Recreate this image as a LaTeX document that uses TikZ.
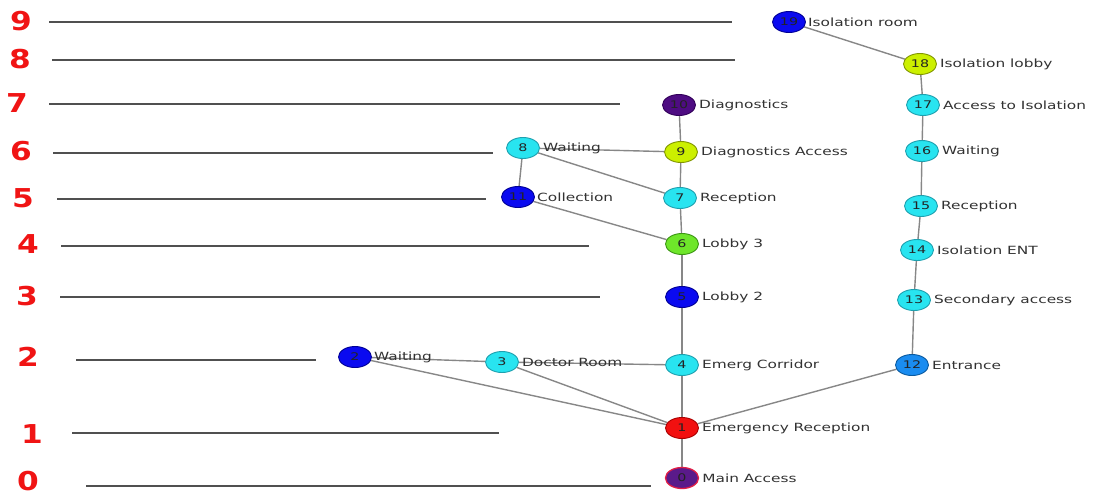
\documentclass[tikz,border=0pt]{standalone}
\usepackage{fontspec}
\usetikzlibrary{shapes.geometric,backgrounds}
\newfontfamily\lblfont[FakeStretch=1.36]{DejaVu Sans}
\newfontfamily\lvlfont[FakeStretch=1.2]{DejaVu Sans Bold}
\definecolor{cy}{RGB}{40,228,240}
\definecolor{cyb}{RGB}{30,160,175}
\definecolor{bl}{RGB}{10,10,240}
\definecolor{blb}{RGB}{0,0,150}
\definecolor{rd}{RGB}{242,16,16}
\definecolor{rdb}{RGB}{170,0,0}
\definecolor{ind}{RGB}{78,12,130}
\definecolor{indb}{RGB}{50,0,90}
\definecolor{pur0}{RGB}{90,26,138}
\definecolor{pur0b}{RGB}{225,30,70}
\definecolor{gr}{RGB}{110,230,42}
\definecolor{grb}{RGB}{60,150,20}
\definecolor{yg}{RGB}{204,240,0}
\definecolor{ygb}{RGB}{130,150,0}
\definecolor{db}{RGB}{26,140,240}
\definecolor{dbb}{RGB}{10,90,160}
\definecolor{edgegray}{RGB}{135,135,135}
\definecolor{rulegray}{RGB}{80,80,80}
\definecolor{lbltxt}{RGB}{50,50,50}
\definecolor{numtxt}{RGB}{35,35,35}
\definecolor{lvlred}{RGB}{240,20,20}
\begin{document}
\begin{tikzpicture}[x=1pt,y=-1pt,
  vtx/.style={ellipse, draw, line width=0.9pt, minimum width=33pt, minimum height=21pt, inner sep=0pt,
    font=\lblfont\fontsize{10.5}{11}\selectfont, text=numtxt},
  cyv/.style={vtx, fill=cy, draw=cyb},
  blv/.style={vtx, fill=bl, draw=blb},
  rdv/.style={vtx, fill=rd, draw=rdb},
  indv/.style={vtx, fill=ind, draw=indb},
  p0v/.style={vtx, fill=pur0, draw=pur0b, line width=1.3pt},
  grv/.style={vtx, fill=gr, draw=grb},
  ygv/.style={vtx, fill=yg, draw=ygb},
  dbv/.style={vtx, fill=db, draw=dbb},
  lbl/.style={anchor=west, inner sep=0pt, font=\lblfont\fontsize{11.3}{12}\selectfont, text=lbltxt},
  lvl/.style={inner sep=0pt, font=\lvlfont\fontsize{26}{26}\selectfont, text=lvlred},
  ruler/.style={draw=rulegray, line width=1.3pt},
  edge/.style={draw=edgegray, line width=1.4pt}
]
\useasboundingbox (0,0) rectangle (1094,496);

% level numbers and rules
\node[lvl] (v9) at (21,21) {9};
\node[lvl] (v8) at (20,59) {8};
\node[lvl] (v7) at (17,103) {7};
\node[lvl] (v6) at (21,151) {6};
\node[lvl] (v5) at (23,198) {5};
\node[lvl] (v4) at (28,244) {4};
\node[lvl] (v3) at (27,296) {3};
\node[lvl] (v2) at (28,357) {2};
\node[lvl] (v1) at (32,434) {1};
\node[lvl] (v0) at (28,481) {0};
\draw[ruler] (49,22) -- (732,22);
\draw[ruler] (52,60) -- (735,60);
\draw[ruler] (49,104) -- (620,104);
\draw[ruler] (53,153) -- (493,153);
\draw[ruler] (57,199) -- (486,199);
\draw[ruler] (61,246) -- (589,246);
\draw[ruler] (60,297) -- (600,297);
\draw[ruler] (76,360) -- (316,360);
\draw[ruler] (72,433) -- (499,433);
\draw[ruler] (86,486) -- (651,486);

% vertices
\node[p0v] (n0) at (682,478) {0};
\node[rdv] (n1) at (682,428) {1};
\node[blv] (n2) at (355,357) {2};
\node[cyv] (n3) at (502,362) {3};
\node[cyv] (n4) at (682,365) {4};
\node[blv] (n5) at (682,297) {5};
\node[grv] (n6) at (682,244) {6};
\node[cyv] (n7) at (680,198) {7};
\node[cyv] (n8) at (523,148) {8};
\node[ygv] (n9) at (681,152) {9};
\node[indv] (n10) at (679,105) {10};
\node[blv] (n11) at (518,197) {11};
\node[dbv] (n12) at (912,365) {12};
\node[cyv] (n13) at (914,300) {13};
\node[cyv] (n14) at (917,250) {14};
\node[cyv] (n15) at (921,206) {15};
\node[cyv] (n16) at (922,151) {16};
\node[cyv] (n17) at (923,105) {17};
\node[ygv] (n18) at (920,64) {18};
\node[blv] (n19) at (789,22) {19};

% labels
\node[lbl] (t0) at ([xshift=3pt]n0.east) {Main Access};
\node[lbl] (t1) at ([xshift=3pt]n1.east) {Emergency Reception};
\node[lbl] (t2) at ([xshift=2pt]n2.east) {Waiting};
\node[lbl] (t3) at ([xshift=3pt]n3.east) {Doctor Room};
\node[lbl] (t4) at ([xshift=3pt]n4.east) {Emerg Corridor};
\node[lbl] (t5) at ([xshift=3pt]n5.east) {Lobby 2};
\node[lbl] (t6) at ([xshift=3pt]n6.east) {Lobby 3};
\node[lbl] (t7) at ([xshift=3pt]n7.east) {Reception};
\node[lbl] (t8) at ([xshift=3pt]n8.east) {Waiting};
\node[lbl] (t9) at ([xshift=3pt]n9.east) {Diagnostics Access};
\node[lbl] (t10) at ([xshift=3pt]n10.east) {Diagnostics};
\node[lbl] (t11) at ([xshift=2pt]n11.east) {Collection};
\node[lbl] (t12) at ([xshift=3pt]n12.east) {Entrance};
\node[lbl] (t13) at ([xshift=3pt]n13.east) {Secondary access};
\node[lbl] (t14) at ([xshift=3pt]n14.east) {Isolation ENT};
\node[lbl] (t15) at ([xshift=3pt]n15.east) {Reception};
\node[lbl] (t16) at ([xshift=3pt]n16.east) {Waiting};
\node[lbl] (t17) at ([xshift=3pt]n17.east) {Access to Isolation};
\node[lbl] (t18) at ([xshift=3pt]n18.east) {Isolation lobby};
\node[lbl] (t19) at ([xshift=2pt]n19.east) {Isolation room};

% edges
\begin{scope}[on background layer]
\draw[edge] (n0) -- (n1);
\draw[edge] (n1) -- (n4);
\draw[edge] (n1) -- (n2);
\draw[edge] (n1) -- (n3);
\draw[edge] (n1) -- (n12);
\draw[edge] (n2) -- (n3);
\draw[edge] (n3) -- (n4);
\draw[edge] (n4) -- (n5);
\draw[edge] (n5) -- (n6);
\draw[edge] (n6) -- (n7);
\draw[edge] (n6) -- (n11);
\draw[edge] (n7) -- (n9);
\draw[edge] (n7) -- (n8);
\draw[edge] (n8) -- (n9);
\draw[edge] (n8) -- (n11);
\draw[edge] (n9) -- (n10);
\draw[edge] (n12) -- (n13);
\draw[edge] (n13) -- (n14);
\draw[edge] (n14) -- (n15);
\draw[edge] (n15) -- (n16);
\draw[edge] (n16) -- (n17);
\draw[edge] (n17) -- (n18);
\draw[edge] (n18) -- (n19);
\end{scope}
\end{tikzpicture}
\end{document}
